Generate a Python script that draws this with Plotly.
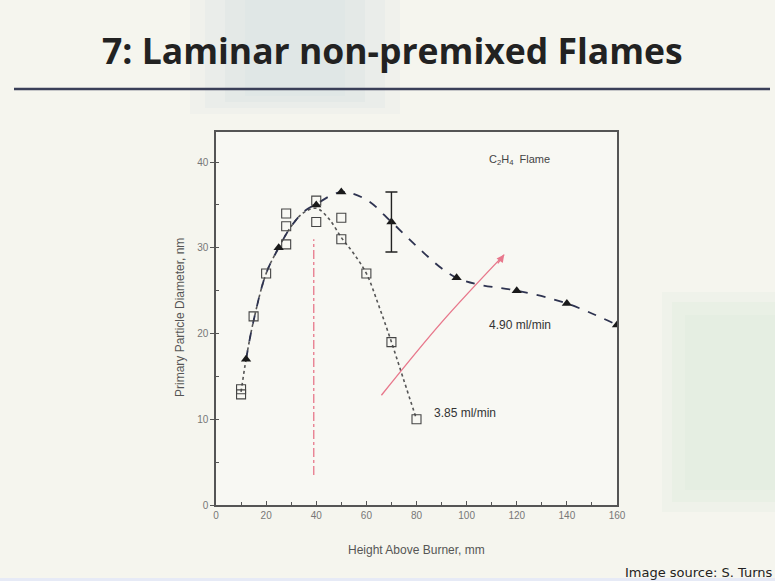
import plotly.graph_objects as go

# ---------------- data ----------------
# 4.90 ml/min (filled triangles)
tri_x = [12, 25, 40, 50, 70, 96, 120, 140, 160]
tri_y = [17, 30, 35, 36.5, 33, 26.5, 25, 23.5, 21]
err_x = [70]
err_y = [33]
err_val = [3.5]
# 3.85 ml/min (open squares)
sq_x = [10, 10, 15, 20, 28, 28, 28, 40, 40, 50, 50, 60, 70, 80]
sq_y = [13.5, 12.9, 22, 27, 34, 32.5, 30.4, 35.5, 33, 33.5, 31, 27, 19, 10]
# guide curves drawn in the figure
fit490_x = [12, 15, 20, 25, 30, 35, 40, 50, 60, 70, 80, 90, 96, 105, 120, 140, 160]
fit490_y = [17, 21.5, 27, 30, 32.5, 34.2, 35.1, 36.5, 35.6, 33, 30.2, 27.6, 26.5, 25.7, 25, 23.5, 21]
fit385_x = [10, 12, 15, 20, 25, 30, 35, 40, 45, 50, 55, 60, 65, 70, 75, 80]
fit385_y = [13.2, 17, 21.5, 27, 30, 32.5, 34.1, 34.6, 33.4, 31.2, 29.3, 27, 23.2, 19, 14.5, 10]
# red dash-dot marker line and red arrow
red_x = [39, 39]
red_y = [3.5, 31]
arrow_x = [66, 90, 115]
arrow_y = [12.8, 21.3, 29.2]
# tick labels
x_ticks = [0, 20, 40, 60, 80, 100, 120, 140, 160]
y_ticks = [0, 10, 20, 30, 40]

# ---------------- geometry helpers ----------------
W, H = 775, 581
L, R, T, B = 216, 617, 132, 505


def px(x):
    return (x - L) / (R - L)


def py(y):
    return (B - y) / (B - T)


fig = go.Figure()

line_col = '#2e3350'
fig.add_trace(go.Scatter(x=fit385_x, y=fit385_y, mode='lines',
                         line=dict(color='#555555', width=1.6, dash='dot', shape='spline', smoothing=1.0),
                         hoverinfo='skip', showlegend=False))
fig.add_trace(go.Scatter(x=fit490_x, y=fit490_y, mode='lines',
                         line=dict(color=line_col, width=1.8, dash='dash', shape='spline', smoothing=1.0),
                         hoverinfo='skip', showlegend=False))
fig.add_trace(go.Scatter(x=red_x, y=red_y, mode='lines',
                         line=dict(color='#e35a72', width=1.4, dash='dashdot'),
                         opacity=0.75, hoverinfo='skip', showlegend=False))
fig.add_trace(go.Scatter(x=arrow_x, y=arrow_y, mode='lines',
                         line=dict(color='#e8788c', width=1.4, shape='spline'),
                         hoverinfo='skip', showlegend=False))
fig.add_trace(go.Scatter(x=sq_x, y=sq_y, mode='markers',
                         marker=dict(symbol='square-open', size=9, color='#444444', line=dict(width=1.1)),
                         name='3.85 ml/min', showlegend=False))
fig.add_trace(go.Scatter(x=tri_x, y=tri_y, mode='markers',
                         marker=dict(symbol='triangle-up', size=9, color='#1a1a1a'),
                         name='4.90 ml/min', showlegend=False))
fig.add_trace(go.Scatter(x=err_x, y=err_y, mode='markers',
                         marker=dict(size=1, color='rgba(0,0,0,0)'),
                         error_y=dict(type='data', array=err_val, visible=True, color='#222222',
                                      thickness=1.4, width=6),
                         hoverinfo='skip', showlegend=False))

ann = []
# arrow head
ann.append(dict(x=arrow_x[-1], y=arrow_y[-1], ax=arrow_x[-1] - 3, ay=arrow_y[-1] - 1.2,
                xref='x', yref='y', axref='x', ayref='y', text='', showarrow=True,
                arrowhead=2, arrowsize=1.1, arrowwidth=1.4, arrowcolor='#e8788c'))
ann.append(dict(x=121, y=40.2, xref='x', yref='y', text='C<sub>2</sub>H<sub>4</sub>  Flame',
                xanchor='center', yanchor='middle',
                showarrow=False, font=dict(family='Liberation Sans', size=11, color='#444444')))
ann.append(dict(x=108, y=21, xref='x', yref='y', text='4.90 ml/min', xanchor='left', yanchor='middle',
                showarrow=False, font=dict(family='Liberation Sans', size=12, color='#333333')))
ann.append(dict(x=86, y=10.7, xref='x', yref='y', text='3.85 ml/min', xanchor='left', yanchor='middle',
                showarrow=False, font=dict(family='Liberation Sans', size=12, color='#333333')))
# axis titles
ann.append(dict(x=px(416.5), y=py(550), xref='paper', yref='paper', text='Height Above Burner, mm',
                xanchor='center', yanchor='middle',
                showarrow=False, font=dict(family='Liberation Sans', size=12, color='#555555')))
ann.append(dict(x=px(180), y=py(318), xref='paper', yref='paper', text='Primary Particle Diameter, nm',
                xanchor='center', yanchor='middle',
                textangle=-90, showarrow=False, font=dict(family='Liberation Sans', size=12, color='#555555')))
# slide title
ann.append(dict(x=px(392), y=py(50), xref='paper', yref='paper', text='<b>7: Laminar non-premixed Flames</b>',
                xanchor='center', yanchor='middle',
                showarrow=False, font=dict(family='Open Sans', size=35.5, color='#222222')))
# source
ann.append(dict(x=px(623), y=py(572), xref='paper', yref='paper', text='Image source: S. Turns',
                xanchor='left', yanchor='middle', showarrow=False,
                font=dict(family='DejaVu Sans', size=13, color='#222222')))

shapes = []
# faint background patches of the slide
for (x0, x1, y0, y1, op) in [(190, 400, 0, 114, 0.12), (205, 385, 0, 108, 0.16), (225, 365, 0, 102, 0.18),
                             (245, 345, 0, 96, 0.14)]:
    shapes.append(dict(type='rect', xref='paper', yref='paper', x0=px(x0), x1=px(x1), y0=py(y0), y1=py(y1),
                       fillcolor='#cfd9e0', opacity=op, line=dict(width=0), layer='below'))
for (x0, x1, y0, y1, op) in [(662, 775, 292, 512, 0.18), (672, 775, 302, 502, 0.22), (685, 775, 315, 490, 0.2)]:
    shapes.append(dict(type='rect', xref='paper', yref='paper', x0=px(x0), x1=px(x1), y0=py(y0), y1=py(y1),
                       fillcolor='#d6e8d8', opacity=op, line=dict(width=0), layer='below'))
shapes.append(dict(type='rect', xref='paper', yref='paper', x0=px(0), x1=px(775), y0=py(578), y1=py(581),
                   fillcolor='#e6eaf6', line=dict(width=0), layer='below'))
shapes.append(dict(type='rect', xref='paper', yref='paper', x0=px(L), x1=px(R), y0=py(B), y1=py(T),
                   fillcolor='#f8f8f3', line=dict(width=0), layer='below'))
# title underline
shapes.append(dict(type='line', xref='paper', yref='paper', x0=px(14), x1=px(770), y0=py(89), y1=py(89),
                   line=dict(color='#3a3f58', width=2.5)))

fig.update_layout(
    width=W, height=H,
    margin=dict(l=L, r=W - R, t=T, b=H - B),
    paper_bgcolor='#f5f5ee', plot_bgcolor='rgba(0,0,0,0)',
    annotations=ann, shapes=shapes, showlegend=False,
    font=dict(family='Liberation Sans'),
)
fig.update_xaxes(range=[0, 160], tickvals=x_ticks, ticktext=[str(v) for v in x_ticks],
                 showgrid=False, zeroline=False, showline=True, mirror=True,
                 linecolor='#555555', linewidth=1.5, ticks='inside', ticklen=4, tickcolor='#555555',
                 tickfont=dict(family='Liberation Sans', size=10, color='#777777'),
                 minor=dict(dtick=10, ticks='inside', ticklen=3, tickcolor='#555555'))
fig.update_yaxes(range=[0, 43.5], tickvals=y_ticks, ticktext=[str(v) for v in y_ticks],
                 showgrid=False, zeroline=False, showline=True, mirror=True,
                 linecolor='#555555', linewidth=1.5, ticks='outside', ticklen=4, tickcolor='#555555',
                 tickfont=dict(family='Liberation Sans', size=10, color='#777777'),
                 minor=dict(dtick=5, ticks='inside', ticklen=3, tickcolor='#555555'))

fig.write_html('out.html')
